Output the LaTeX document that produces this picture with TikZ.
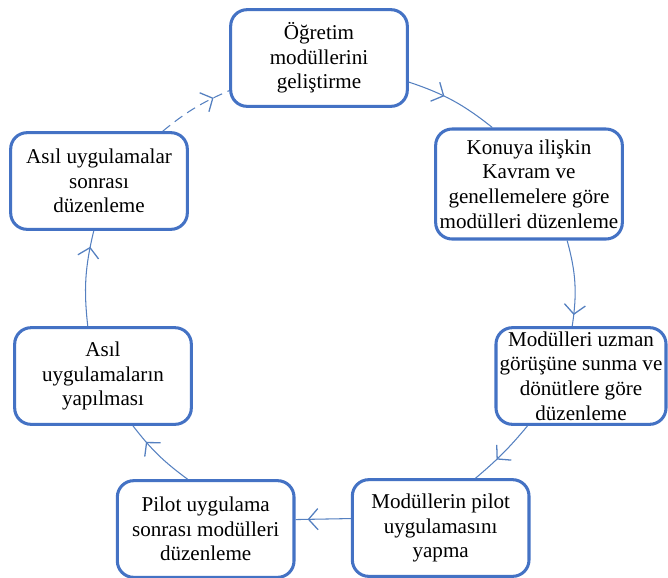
\documentclass[tikz,border=0pt]{standalone}
\usepackage{fontspec}
\setmainfont{Liberation Serif}
\usepackage{xcolor}
\definecolor{boxline}{HTML}{4472C4}
\definecolor{linkline}{HTML}{5580C0}
\usetikzlibrary{arrows.meta, positioning, decorations.markings}

\begin{document}
\begin{tikzpicture}[
        font=\fontsize{18}{21}\selectfont,
        stage_box/.style={
            rectangle,
            rounded corners=14pt,
            draw=boxline,
            line width=2.6pt,
            fill=white,
            align=center,
            inner sep=2pt,
            minimum width=5.3cm,
            minimum height=2.9cm
        },
        flow/.style={
            draw=linkline,
            line width=0.9pt,
            postaction={decorate},
            decoration={markings,
                mark=at position #1 with {\arrow[line width=1.1pt]{Straight Barb[length=8pt, width=18pt]}}}
        },
        flow/.default=0.5
    ]

    % Page frame
    \useasboundingbox (0,0) rectangle (20.04,-17.31);

    % Stages of the cycle (clockwise from top)
    \node[stage_box] (develop) at (9.57,-1.74) {Öğretim\\modüllerini\\geliştirme};
    \node[stage_box, minimum width=5.6cm, minimum height=3.3cm] (concept) at (15.87,-5.52) {Konuya ilişkin\\Kavram ve\\genellemelere göre\\modülleri düzenleme};
    \node[stage_box, minimum width=5.1cm] (expert) at (17.43,-11.28) {Modülleri uzman\\görüşüne sunma ve\\dönütlere göre\\düzenleme};
    \node[stage_box] (pilot) at (13.22,-15.84) {Modüllerin pilot\\uygulamasını\\yapma};
    \node[stage_box] (afterpilot) at (6.17,-15.87) {Pilot uygulama\\sonrası modülleri\\düzenleme};
    \node[stage_box] (main) at (3.09,-11.28) {Asıl\\uygulamaların\\yapılması};
    \node[stage_box] (aftermain) at (2.97,-5.43) {Asıl uygulamalar\\sonrası\\düzenleme};

    % Connectors
    \draw[flow=0.4] (develop.-15) to[bend left=10] (concept.123);
    \draw[flow=0.87] (concept.-56) to[bend left=12] (expert.100);
    \draw[flow=0.62] (expert.-137) to[bend left=5] (pilot.55);
    \draw[flow=0.78] (pilot.174) -- (afterpilot.6);
    \draw[flow=0.73] (afterpilot.110) to[bend left=8] (main.-59);
    \draw[flow=0.83] (main.107) to[bend left=10] (aftermain.-96);
    \draw[flow=0.78, dashed, dash pattern=on 8pt off 5pt] (aftermain.38) to[bend left=8] (develop.200);

\end{tikzpicture}
\end{document}
